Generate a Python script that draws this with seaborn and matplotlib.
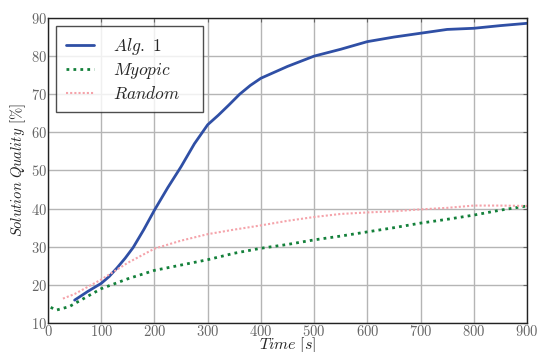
import numpy as np
import pandas as pd
import seaborn as sns
import matplotlib.pyplot as plt

# values
alg_t = [50, 75, 100, 115, 130, 145, 160, 180, 200, 225, 250, 275, 300, 320, 340, 360,
         380, 400, 450, 500, 550, 600, 650, 700, 750, 800, 850, 900]
alg_q = [16.0, 18.3, 20.4, 22.2, 24.5, 27.0, 29.8, 34.5, 39.6, 45.5, 51.0, 57.0, 62.0,
         64.5, 67.2, 70.0, 72.3, 74.2, 77.3, 80.0, 81.8, 83.8, 85.0, 86.0, 87.0, 87.3,
         88.0, 88.6]

myo_t = [5, 16, 40, 100, 150, 200, 250, 300, 350, 400, 450, 500, 550, 600, 650,
         700, 750, 800, 850, 900]
myo_q = [14.1, 13.4, 14.3, 19.0, 21.6, 23.8, 25.2, 26.6, 28.3, 29.6, 30.6, 31.8, 32.8,
         33.9, 35.0, 36.2, 37.2, 38.3, 39.6, 40.7]

rnd_t = [28, 50, 100, 150, 200, 250, 300, 350, 400, 450, 500, 550, 600, 650, 700,
         750, 800, 850, 900]
rnd_q = [16.4, 17.6, 21.4, 25.8, 29.5, 31.6, 33.3, 34.5, 35.6, 36.8, 37.8, 38.6, 39.0,
         39.3, 39.8, 40.2, 40.8, 40.8, 40.7]

labels = [r'$\mathit{Alg.\ 1}$', r'$\mathit{Myopic}$', r'$\mathit{Random}$']

sns.set_style('white')
plt.rcParams['font.family'] = 'serif'
plt.rcParams['font.serif'] = ['cmr10', 'DejaVu Serif']
plt.rcParams['mathtext.fontset'] = 'cm'
plt.rcParams['axes.formatter.use_mathtext'] = True

fig = plt.figure(figsize=(5.37, 3.52), dpi=100)
ax = fig.add_axes([0.0894, 0.0824, 0.8920, 0.8665])

sns.lineplot(x=alg_t, y=alg_q, ax=ax, color='#2f4fa5', linewidth=2.0, label=labels[0])
sns.lineplot(x=myo_t, y=myo_q, ax=ax, color='#13803a', linewidth=2.0,
             linestyle=(0, (1, 1.5)), label=labels[1])
sns.lineplot(x=rnd_t, y=rnd_q, ax=ax, color='#f5a3aa', linewidth=1.5,
             linestyle=(0, (1, 1)), label=labels[2])

ax.set_xlim(0, 900)
ax.set_ylim(10, 90)
ax.set_xticks(np.arange(0, 901, 100))
ax.set_yticks(np.arange(10, 91, 10))
ax.grid(True, color='#b5b5b5', linewidth=1.0)
ax.tick_params(direction='in', length=3, colors='#666666', labelsize=10.5,
               top=True, right=True, pad=1)
for sp in ax.spines.values():
    sp.set_color('#222222')
    sp.set_linewidth(1.0)

ax.set_xlabel(r'$Time\ [s]$', fontsize=11.5, color='#222222', labelpad=-3)
ax.set_ylabel(r'$\mathit{Solution\ Quality}$ [%]', fontsize=10.5, color='#222222', labelpad=2)

leg = ax.legend(loc='upper left', bbox_to_anchor=(0.0167, 0.5, 0.307, 0.474),
                mode='expand', fontsize=12.5, frameon=True, fancybox=False,
                edgecolor='#222222', handlelength=1.6, handletextpad=1.1,
                borderaxespad=0, borderpad=0.57, labelspacing=0.24)
leg.get_frame().set_linewidth(1.0)

plt.savefig('out.png', dpi=100)
